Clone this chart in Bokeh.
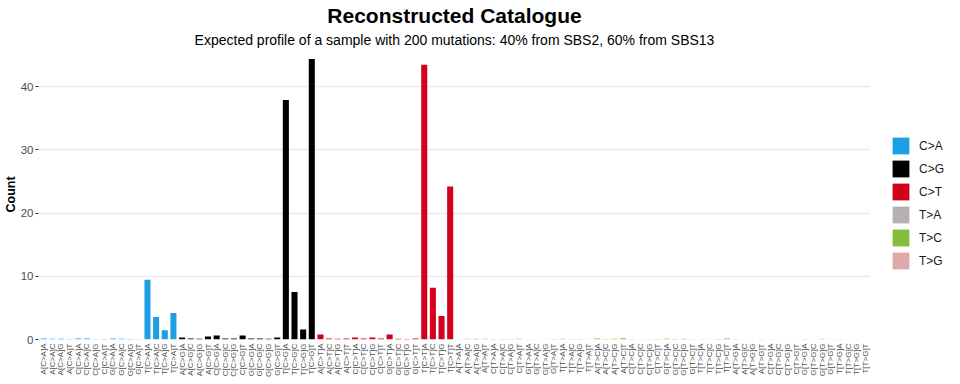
import math
from bokeh.plotting import figure
from bokeh.layouts import row
from bokeh.models import (FactorRange, Range1d, Title, Legend, LegendItem,
                          ColumnDataSource, FixedTicker)
from bokeh.embed import file_html
from bokeh.resources import INLINE

# ---- data ----
bases = ["A", "C", "G", "T"]
mutation_types = ["C>A", "C>G", "C>T", "T>A", "T>C", "T>G"]
type_colors = ["#1e9fe3", "#000000", "#d2001c", "#b5b1b1", "#84bc3c", "#e1a8ac"]

ca_counts = [0.16, 0.10, 0.10, 0.08, 0.16, 0.16, 0.03, 0.08,
             0.15, 0.10, 0.08, 0.05, 9.45, 3.55, 1.45, 4.2]
cg_counts = [0.32, 0.16, 0.10, 0.48, 0.64, 0.15, 0.15, 0.64,
             0.16, 0.15, 0.10, 0.32, 37.9, 7.5, 1.6, 44.4]
ct_counts = [0.8, 0.16, 0.10, 0.16, 0.32, 0.16, 0.32, 0.16,
             0.8, 0.12, 0.07, 0.16, 43.5, 8.2, 3.7, 24.2]
ta_counts = [0.05, 0.10, 0.10, 0.10, 0.06, 0.08, 0.08, 0.10,
             0.03, 0.05, 0.05, 0.08, 0.10, 0.06, 0.06, 0.05]
tc_counts = [0.16, 0.06, 0.10, 0.20, 0.08, 0.05, 0.03, 0.08,
             0.10, 0.08, 0.10, 0.02, 0.02, 0.05, 0.08, 0.15]
tg_counts = [0.06, 0.02, 0.02, 0.08, 0.04, 0.03, 0.02, 0.05,
             0.06, 0.04, 0.12, 0.02, 0.06, 0.02, 0.03, 0.01]
counts_by_type = [ca_counts, cg_counts, ct_counts, ta_counts, tc_counts, tg_counts]

y_ticks = [0, 10, 20, 30, 40]

title_text = "Reconstructed Catalogue"
subtitle_text = "Expected profile of a sample with 200 mutations: 40% from SBS2, 60% from SBS13"

categories = [f"{l}[{m}]{r}" for m in mutation_types for l in bases for r in bases]

FONT = "Liberation Sans"
H = 384

p = figure(width=870, height=H,
           x_range=FactorRange(factors=categories, range_padding=0.1,
                               range_padding_units="absolute"),
           y_range=Range1d(0, 45.9),
           output_backend="svg", toolbar_location=None,
           title=None,
           min_border_left=30, min_border_right=0,
           min_border_top=0, min_border_bottom=45)

for m, col, vals in zip(mutation_types, type_colors, counts_by_type):
    xs = [c for c in categories if c[1:6] == f"[{m}]"]
    src = ColumnDataSource(dict(x=xs, top=vals))
    p.vbar(x="x", top="top", width=0.7, source=src,
           fill_color=col, line_color=None)

# titles
p.add_layout(Title(text=subtitle_text, align="center", text_font=FONT,
                   text_font_size="14px", text_font_style="normal",
                   text_color="#000000", standoff=3), "above")
p.add_layout(Title(text=title_text, align="center", text_font=FONT,
                   text_font_size="21px", text_font_style="bold",
                   text_color="#000000", standoff=3), "above")

# axes
p.yaxis.ticker = FixedTicker(ticks=y_ticks)
p.yaxis.axis_label = "Count"
p.yaxis.axis_label_text_font = FONT
p.yaxis.axis_label_text_font_size = "12.5px"
p.yaxis.axis_label_text_font_style = "bold"
p.yaxis.axis_label_text_color = "#000000"
p.yaxis.axis_label_standoff = 0
p.yaxis.axis_line_color = None
p.yaxis.major_tick_line_color = "#333333"
p.yaxis.major_tick_out = 3
p.yaxis.major_tick_in = 0
p.yaxis.minor_tick_line_color = None
p.yaxis.major_label_text_font = FONT
p.yaxis.major_label_text_font_size = "11.5px"
p.yaxis.major_label_text_color = "#4d4d4d"
p.yaxis.major_label_standoff = 2

p.xaxis.axis_line_color = None
p.xaxis.major_tick_line_color = None
p.xaxis.minor_tick_line_color = None
p.xaxis.major_tick_out = 0
p.xaxis.major_tick_in = 0
p.xaxis.major_label_orientation = math.pi / 2
p.xaxis.major_label_text_font = FONT
p.xaxis.major_label_text_font_size = "8px"
p.xaxis.major_label_text_color = "#4d4d4d"
p.xaxis.major_label_standoff = 4

p.xgrid.visible = False
p.ygrid.grid_line_color = "#ebebeb"
p.ygrid.grid_line_width = 1.5
p.outline_line_color = None

# legend figure (key only)
lf = figure(width=90, height=H, x_range=Range1d(0, 1), y_range=Range1d(0, 1),
            output_backend="svg", toolbar_location=None, title=None,
            min_border_left=0, min_border_right=0, min_border_top=0,
            min_border_bottom=0)
lf.axis.visible = False
lf.grid.visible = False
lf.outline_line_color = None

items = []
for m, col in zip(mutation_types, type_colors):
    # zero-height key bar outside the visible range: only its style is used
    r = lf.vbar(x=[-1], top=[0], width=0.5, fill_color=col, line_color=None)
    items.append(LegendItem(label=m, renderers=[r]))

legend = Legend(items=items, location=(20, 68), orientation="vertical",
                glyph_width=21, glyph_height=21, spacing=2, label_standoff=8,
                padding=0, margin=0, border_line_color=None,
                background_fill_alpha=0,
                label_text_font=FONT, label_text_font_size="12px",
                label_text_color="#1a1a1a")
lf.add_layout(legend, "center")

layout = row(p, lf, spacing=0)
open("out.html", "w").write(file_html(layout, INLINE))
